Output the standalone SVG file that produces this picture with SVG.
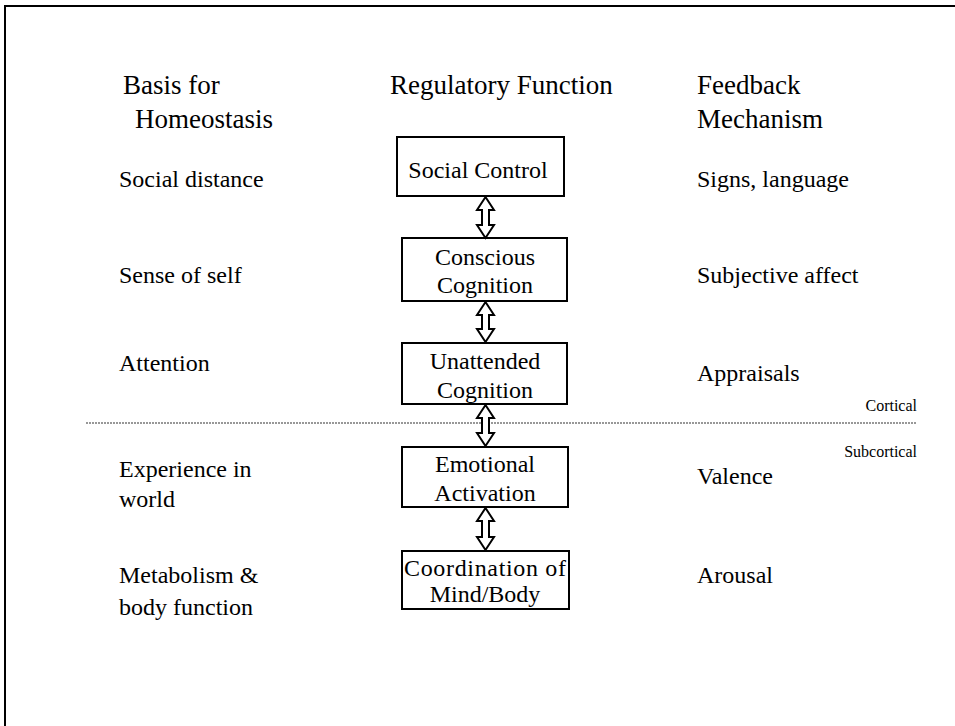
<svg xmlns="http://www.w3.org/2000/svg" width="955" height="726" viewBox="0 0 955 726">
<style>
text{font-family:"Liberation Serif","Times New Roman",serif;fill:#000;font-size:24px}
.h{font-size:27px}
.c{text-anchor:middle}
.s{font-size:16px;text-anchor:end}
.box{fill:#fff;stroke:#000;stroke-width:2}
.arr{fill:#fff;stroke:#000;stroke-width:2;stroke-linejoin:miter}
</style>
<rect width="955" height="726" fill="#fff"/>
<path d="M5,726 V6 H955" fill="none" stroke="#000" stroke-width="2"/>
<line x1="86" y1="423" x2="917" y2="423" stroke="#777" stroke-width="1.5" stroke-dasharray="2,1"/>
<g id="headers">
<text class="h" x="123" y="94">Basis for</text>
<text class="h" x="135" y="128">Homeostasis</text>
<text class="h" x="390" y="94">Regulatory Function</text>
<text class="h" x="697" y="94">Feedback</text>
<text class="h" x="697" y="128">Mechanism</text>
</g>
<g id="basis">
<text x="119" y="187">Social distance</text>
<text x="119" y="283">Sense of self</text>
<text x="119" y="371">Attention</text>
<text x="119" y="477">Experience in</text>
<text x="119" y="507">world</text>
<text x="119" y="583">Metabolism &amp;</text>
<text x="119" y="615">body function</text>
</g>
<g id="feedback">
<text x="697" y="187">Signs, language</text>
<text x="697" y="283">Subjective affect</text>
<text x="697" y="381">Appraisals</text>
<text x="697" y="484">Valence</text>
<text x="697" y="583">Arousal</text>
</g>
<g id="levels">
<text class="s" x="917" y="411">Cortical</text>
<text class="s" x="917" y="457">Subcortical</text>
</g>
<g id="n1"><rect class="box" x="397" y="137" width="167" height="59"/><text class="c" x="478" y="178">Social Control</text></g>
<g id="n2"><rect class="box" x="402" y="238" width="165" height="63"/><text class="c" x="485" y="265">Conscious</text><text class="c" x="485" y="293">Cognition</text></g>
<g id="n3"><rect class="box" x="402" y="343" width="165" height="61"/><text class="c" x="485" y="369">Unattended</text><text class="c" x="485" y="398">Cognition</text></g>
<g id="n4"><rect class="box" x="402" y="447" width="166" height="60"/><text class="c" x="485" y="472">Emotional</text><text class="c" x="485" y="501">Activation</text></g>
<g id="n5"><rect class="box" x="402" y="551" width="167" height="58"/><text class="c" x="485" y="576" textLength="162" lengthAdjust="spacing">Coordination of</text><text class="c" x="485" y="602">Mind/Body</text></g>
<g id="connectors">
<path class="arr" d="M485.5,197 L494,210 L489,210 L489,225 L494,225 L485.5,238 L477,225 L482,225 L482,210 L477,210 Z"/>
<path class="arr" d="M485.5,302 L494,315 L489,315 L489,329 L494,329 L485.5,342 L477,329 L482,329 L482,315 L477,315 Z"/>
<path class="arr" d="M485.5,405 L494,418 L489,418 L489,433 L494,433 L485.5,446 L477,433 L482,433 L482,418 L477,418 Z"/>
<path class="arr" d="M485.5,508 L494,521 L489,521 L489,537 L494,537 L485.5,550 L477,537 L482,537 L482,521 L477,521 Z"/>
</g>
</svg>
